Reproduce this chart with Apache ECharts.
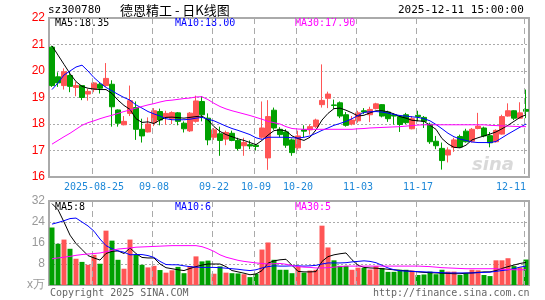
<!DOCTYPE html>
<html>
<head>
<meta charset="utf-8">
<script src="https://cdn.jsdelivr.net/npm/echarts@6/dist/echarts.min.js"></script>
<style>html,body{margin:0;padding:0;background:#fff}#main{width:545px;height:300px}</style>
</head>
<body>
<div id="main"></div>
<script>
// 交易日
var dates = [
  '2025-08-14','2025-08-15','2025-08-18','2025-08-19','2025-08-20','2025-08-21','2025-08-22','2025-08-25','2025-08-26','2025-08-27','2025-08-28','2025-08-29',
  '2025-09-01','2025-09-02','2025-09-03','2025-09-04','2025-09-05','2025-09-08','2025-09-09','2025-09-10','2025-09-11','2025-09-12','2025-09-15','2025-09-16',
  '2025-09-17','2025-09-18','2025-09-19','2025-09-22','2025-09-23','2025-09-24','2025-09-25','2025-09-26','2025-09-29','2025-09-30',
  '2025-10-09','2025-10-10','2025-10-13','2025-10-14','2025-10-15','2025-10-16','2025-10-17','2025-10-20','2025-10-21','2025-10-22','2025-10-23','2025-10-24',
  '2025-10-27','2025-10-28','2025-10-29','2025-10-30','2025-10-31',
  '2025-11-03','2025-11-04','2025-11-05','2025-11-06','2025-11-07','2025-11-10','2025-11-11','2025-11-12','2025-11-13','2025-11-14','2025-11-17','2025-11-18',
  '2025-11-19','2025-11-20','2025-11-21','2025-11-24','2025-11-25','2025-11-26','2025-11-27','2025-11-28',
  '2025-12-01','2025-12-02','2025-12-03','2025-12-04','2025-12-05','2025-12-08','2025-12-09','2025-12-10','2025-12-11'
];
// [开, 收, 低, 高]
var kData = [
  [20.9,19.45,19.4,20.95],[19.78,19.55,19.4,19.95],[19.45,19.97,19.3,20.1],[19.83,19.42,19.2,20.0],[19.38,19.45,19.05,19.6],
  [19.45,19.0,18.9,19.45],[19.13,19.23,18.88,19.33],[19.3,19.55,19.2,19.58],[19.5,19.35,19.15,19.55],[19.45,19.72,19.4,20.3],
  [19.5,18.65,17.9,19.65],[18.53,18.03,17.9,18.55],[17.97,18.1,17.95,18.3],[18.4,18.88,18.3,19.45],[18.62,17.8,17.4,18.85],
  [17.8,17.55,17.3,18.2],[17.7,18.0,17.68,18.25],[18.05,18.5,17.92,18.6],[18.47,18.15,17.95,18.58],[18.25,18.4,17.97,18.5],
  [18.2,18.43,18.0,18.48],[18.42,18.1,17.95,18.45],[18.03,17.82,17.68,18.1],[17.74,18.41,17.7,18.45],[18.1,18.87,18.05,19.07],
  [18.85,18.35,18.1,19.05],[18.22,17.4,17.2,18.4],[17.5,17.78,17.4,17.85],[17.63,17.38,16.8,17.9],[17.43,17.68,17.2,17.75],
  [17.65,17.38,17.35,17.75],[17.38,17.08,17.0,17.48],[17.18,17.3,16.8,17.48],[17.22,17.17,17.05,17.38],[17.2,17.15,17.0,17.25],
  [17.5,17.85,17.45,18.85],[16.72,18.28,16.27,18.9],[18.52,17.85,17.78,18.62],[17.8,17.6,17.5,17.88],[17.7,17.2,17.1,17.8],
  [17.4,16.92,16.8,17.45],[17.1,17.55,17.03,17.75],[17.78,17.73,17.5,17.95],[17.78,17.9,17.6,17.98],[17.9,18.15,17.85,18.2],
  [18.73,18.89,18.62,20.25],[18.97,19.13,18.6,19.22],[18.72,18.7,18.57,18.92],[18.8,18.3,18.22,18.85],[18.35,17.95,17.9,18.45],
  [18.0,18.15,17.95,18.3],[18.12,18.42,18.05,18.5],[18.5,18.45,18.38,18.6],[18.35,18.55,18.07,18.65],[18.58,18.76,18.55,18.8],
  [18.73,18.3,18.25,18.75],[18.45,18.2,18.08,18.5],[18.35,18.3,17.98,18.4],[18.28,17.98,17.7,18.32],[18.35,18.05,18.0,18.42],
  [17.82,18.2,17.8,18.3],[18.33,18.28,18.1,18.5],[18.25,18.1,17.85,18.3],[17.99,17.33,17.25,18.05],[17.35,17.18,17.05,17.55],
  [17.08,16.62,16.28,17.3],[16.83,17.02,16.55,17.12],[17.12,17.4,16.95,17.48],[17.53,17.13,17.1,17.6],[17.73,17.33,17.3,17.82],
  [17.35,17.8,17.3,17.85],[17.83,17.92,17.8,18.42],[17.85,17.55,17.5,17.9],[17.56,17.29,17.12,17.7],[17.33,17.76,17.3,17.8],
  [17.62,18.28,17.6,18.35],[18.3,18.5,18.28,18.78],[18.5,18.22,18.15,18.52],[18.22,18.42,18.2,18.82],[18.55,18.48,18.22,19.3]
];
var ma5 = [20.95,20.6,20.25,19.9,19.6,19.42,19.35,19.32,19.3,19.3,19.15,18.9,18.7,18.55,18.2,18.06,18.08,18.02,18.15,18.25,
  18.26,18.24,18.22,18.25,18.28,18.3,18.15,17.9,17.72,17.6,17.52,17.44,17.38,17.3,17.22,17.38,17.58,17.75,17.78,17.74,
  17.55,17.45,17.38,17.5,17.78,18.15,18.4,18.58,18.6,18.52,18.42,18.3,18.33,18.42,18.5,18.5,18.46,18.38,18.28,18.22,
  18.14,18.12,18.1,17.95,17.8,17.45,17.25,17.12,17.1,17.2,17.4,17.48,17.55,17.62,17.7,17.82,17.95,18.1,18.25,18.35];
var ma10 = [19.3,19.55,19.85,20.0,20.15,20.22,20.0,19.75,19.55,19.38,19.25,19.12,19.0,18.9,18.72,18.6,18.47,18.38,18.3,18.2,
  18.16,18.16,18.16,18.18,18.22,18.25,18.18,18.12,18.02,17.92,17.83,17.76,17.68,17.6,17.48,17.42,17.5,17.5,17.5,17.5,
  17.48,17.47,17.5,17.55,17.65,17.76,17.85,17.95,18.02,18.1,18.2,18.32,18.44,18.46,18.47,18.45,18.41,18.36,18.32,18.3,
  18.27,18.25,18.2,18.12,17.98,17.82,17.65,17.52,17.43,17.38,17.32,17.3,17.3,17.3,17.34,17.48,17.62,17.75,17.88,18.0];
var ma30 = [17.24,17.38,17.52,17.65,17.8,17.95,18.05,18.12,18.2,18.27,18.33,18.4,18.47,18.53,18.6,18.66,18.72,18.77,18.83,18.88,
  18.9,18.93,18.96,18.98,19.02,19.03,18.92,18.78,18.66,18.57,18.5,18.44,18.38,18.32,18.25,18.18,18.1,18.05,18.0,17.9,
  17.83,17.81,17.8,17.8,17.8,17.8,17.8,17.8,17.8,17.8,17.8,17.82,17.83,17.85,17.86,17.87,17.88,17.89,17.9,17.92,
  17.94,17.96,17.97,17.97,17.97,17.97,17.97,17.97,17.97,17.97,17.97,17.97,17.97,17.95,17.94,17.93,17.92,17.91,17.9,17.9];
// 成交量(万手)
var volumes = [21.9,15.7,17.3,13.8,10.0,8.8,7.7,11.5,8.1,20.7,16.9,9.6,6.2,17.3,11.5,7.7,6.7,7.3,5.7,4.7,
  5.6,6.9,4.5,7.2,10.9,9.0,9.3,4.3,7.1,4.7,4.5,4.4,4.1,3.0,4.3,13.5,16.2,9.6,5.8,5.8,
  4.5,7.0,4.7,5.5,5.8,22.6,14.3,9.4,7.3,7.3,5.8,6.6,6.5,5.9,7.2,6.5,5.0,5.0,5.8,5.8,
  5.5,3.8,4.0,5.1,4.1,5.8,5.1,5.1,3.8,4.5,5.8,5.6,3.8,3.4,9.4,9.4,10.2,7.2,6.7,9.7];
var volMa5 = [31,28.7,24,19,15.8,13.5,11.2,10.3,9.5,12.0,12.8,13.0,12.0,14.1,12.0,10.5,10.3,10.3,8.0,6.6,
  6.2,5.8,5.5,6.3,7.0,7.6,8.0,8.0,8.0,7.0,5.5,5.0,4.5,3.9,4.2,5.5,8.3,9.2,9.6,9.8,
  7.5,5.2,5.0,5.0,5.1,9.0,10.8,11.5,11.9,12.2,9.6,7.5,6.7,6.5,6.4,6.2,6.0,5.8,5.6,5.4,
  5.2,5.0,4.8,4.7,4.6,4.5,4.4,4.3,4.3,4.5,4.6,4.8,5.0,5.0,5.5,6.3,7.0,7.6,8.2,8.6];
var volMa10 = [23.2,23.8,24.5,25.3,25.5,24.0,22.5,20.5,17.5,15.0,13.8,13.0,12.5,11.5,11.6,11.6,11.2,10.5,9.0,7.8,
  7.7,7.7,7.3,7.0,6.8,6.7,6.7,6.7,6.6,6.4,6.2,6.0,5.7,5.5,5.8,6.5,7.0,7.3,7.2,7.2,
  7.3,7.3,7.2,7.3,7.5,8.0,8.4,8.4,8.4,8.5,8.8,9.0,9.2,9.0,8.5,7.5,6.5,5.8,5.4,5.3,
  5.2,5.1,5.0,4.9,4.8,4.7,4.6,4.6,4.6,4.6,4.6,4.7,4.8,4.9,5.2,5.5,5.8,6.2,6.8,7.2];
var volMa30 = [10.0,10.3,10.6,10.9,11.3,11.6,11.8,12.0,12.2,12.7,13.2,13.7,13.9,14.1,14.4,14.5,14.6,14.7,14.8,14.9,
  15.0,15.0,15.0,15.0,15.0,14.6,13.8,12.8,11.5,10.6,10.0,9.4,9.0,8.7,8.4,8.2,8.0,8.1,8.2,7.9,
  7.4,7.0,6.8,6.7,6.5,6.5,6.6,6.8,7.0,7.2,7.2,7.2,7.2,7.2,7.2,7.2,7.2,7.2,7.2,7.2,
  7.2,7.2,7.1,7.0,6.8,6.6,6.5,6.4,6.3,6.2,6.2,6.2,6.2,6.2,6.2,6.0,5.9,5.8,5.8,5.8];
var labelIndex = [7,17,27,34,41,51,61,79];
var priceRange = [16, 22];
var volRange = [0, 32];

var UP = '#ff5555', DOWN = '#00a000';
var MONO = '"DejaVu Sans Mono", "Liberation Mono", monospace';

function showAt(idx){ return labelIndex.indexOf(idx) >= 0; }

var myChart = echarts.init(document.getElementById('main'), null, {renderer: 'canvas'});

function xAxisFor(gridIndex, withLabel){
  return {
    type: 'category', gridIndex: gridIndex, data: dates, boundaryGap: true,
    axisLine: {show: false}, axisTick: {show: false}, splitLine: {show: false},
    axisLabel: {
      show: withLabel, color: '#1e88d8', fontFamily: MONO, fontSize: 10, margin: 5,
      alignMaxLabel: 'right',
      interval: function(idx){ return showAt(idx); },
      formatter: function(v, idx){ return idx == labelIndex[0] ? v : v.slice(5); }
    }
  };
}

//竖向虚线,画在日期标签处,用一段段实线拼出虚线
function vLines(xi, yi, range){
  return {
    type: 'custom', xAxisIndex: xi, yAxisIndex: yi, silent: true, z: 10,
    encode: {x: 0, y: 1},
    data: labelIndex.map(function(i){ return [i, range[0], range[1]]; }),
    renderItem: function(params, api){
      var bottom = api.coord([api.value(0), api.value(1)]);
      var top = api.coord([api.value(0), api.value(2)]);
      var x = Math.round(bottom[0]) - 1.5;
      var segs = [];
      for (var y = top[1]; y < bottom[1]; y += 10) {
        segs.push({type: 'line', shape: {x1: x, y1: y, x2: x, y2: Math.min(y + 6, bottom[1])},
          style: {stroke: '#aaa', lineWidth: 1}});
      }
      return {type: 'group', children: segs};
    }
  };
}

function maLine(name, data, color, xi, yi){
  return {name: name, type: 'line', data: data, xAxisIndex: xi, yAxisIndex: yi,
    symbol: 'none', lineStyle: {color: color, width: 1}, z: 11, silent: true};
}

function txt(x, y, s, color, size, align, font){
  return {type: 'text', left: x, top: y, style: {text: s, fill: color,
    font: (size || 10) + 'px ' + (font || MONO), textAlign: align || 'left', textVerticalAlign: 'middle'}};
}

var option = {
  animation: false,
  backgroundColor: '#fff',
  grid: [
    {left: 49, right: 16, top: 18, height: 159, show: true, borderColor: '#aaa', borderWidth: 2},
    {left: 49, right: 16, top: 201, height: 84, show: true, borderColor: '#aaa', borderWidth: 2}
  ],
  xAxis: [xAxisFor(0, true), xAxisFor(1, false)],
  yAxis: [
    {type: 'value', gridIndex: 0, min: priceRange[0], max: priceRange[1], interval: 1,
      axisLine: {show: false}, axisTick: {show: false},
      axisLabel: {color: '#f00', fontSize: 12, fontFamily: '"Liberation Sans", Arial', margin: 4},
      splitLine: {lineStyle: {color: '#aaa', type: [2, 2]}}},
    {type: 'value', gridIndex: 1, min: volRange[0], max: volRange[1], interval: 8,
      axisLine: {show: false}, axisTick: {show: false},
      axisLabel: {color: '#999', fontSize: 12, fontFamily: '"Liberation Sans", Arial', margin: 4,
        formatter: function(v){ return v == 0 ? 'x万' : v; }},
      splitLine: {lineStyle: {color: '#aaa', type: [2, 2]}}}
  ],
  series: [
    vLines(0, 0, priceRange),
    vLines(1, 1, volRange),
    {name: 'K', type: 'candlestick', data: kData, barWidth: 5, z: 3,
      itemStyle: {color: UP, color0: DOWN, borderColor: UP, borderColor0: DOWN, borderWidth: 1}},
    maLine('MA5', ma5, '#000', 0, 0),
    maLine('MA10', ma10, '#0000ff', 0, 0),
    maLine('MA30', ma30, '#ff00ff', 0, 0),
    {name: 'VOL', type: 'bar', data: volumes, xAxisIndex: 1, yAxisIndex: 1, barWidth: 5, z: 3,
      itemStyle: {color: function(p){
        var k = kData[p.dataIndex];
        return k[1] >= k[0] ? UP : DOWN;
      }}},
    maLine('VMA5', volMa5, '#000', 1, 1),
    maLine('VMA10', volMa10, '#0000ff', 1, 1),
    maLine('VMA30', volMa30, '#ff00ff', 1, 1)
  ],
  graphic: [
    txt(48, 5, 'sz300780', '#000', 11),
    txt(120, 4, '德恩精工 - 日K线图', '#000', 13, 'left', '"Noto Sans CJK SC", sans-serif'),
    txt(398, 5, '2025-12-11 15:00:00', '#000', 11),
    txt(55, 18, 'MA5:18.35', '#000', 10),
    txt(175, 18, 'MA10:18.00', '#0000ff', 10),
    txt(295, 18, 'MA30:17.90', '#ff00ff', 10),
    txt(55, 202, 'MA5:8', '#000', 10),
    txt(175, 202, 'MA10:6', '#0000ff', 10),
    txt(295, 202, 'MA30:5', '#ff00ff', 10),
    txt(50, 288, 'Copyright 2025 SINA.COM', '#666', 10),
    txt(373, 288, 'http://finance.sina.com.cn', '#666', 10),
    {type: 'text', left: 472, top: 156, z: 0, style: {text: 'sina', fill: 'rgba(170,170,170,0.45)',
      font: 'italic bold 18px "DejaVu Sans", sans-serif'}}
  ]
};
myChart.setOption(option);
</script>
</body>
</html>
